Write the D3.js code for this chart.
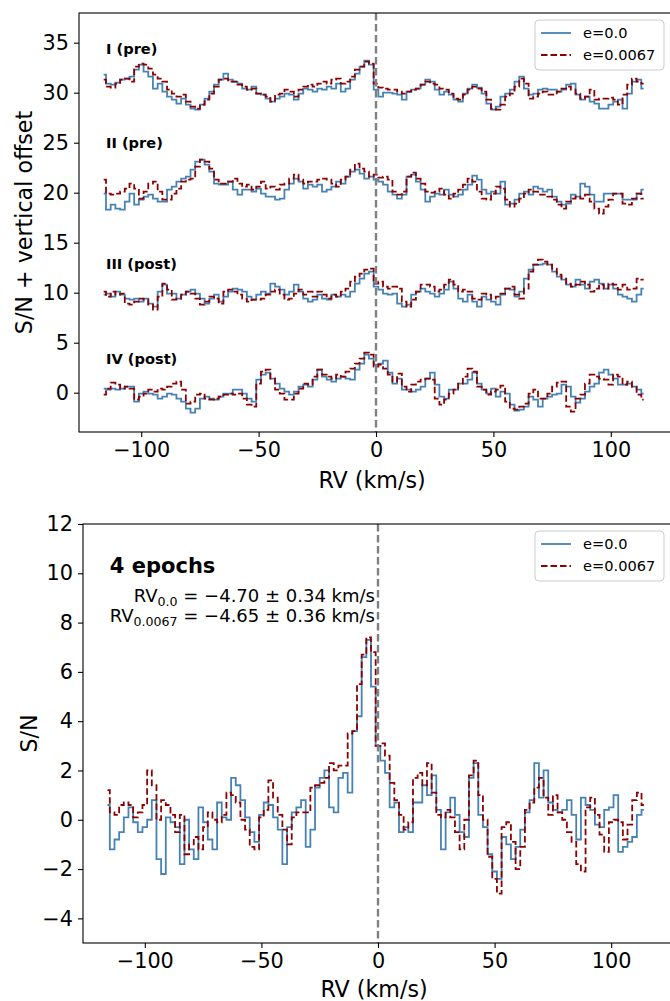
<!DOCTYPE html>
<html>
<head>
<meta charset="utf-8">
<script src="https://cdn.jsdelivr.net/npm/d3@7"></script>
<style>
  body { margin: 0; background: #fff; }
  text { font-family: "DejaVu Sans", sans-serif; }
</style>
</head>
<body>
<svg id="chart" width="670" height="1001"></svg>
<script>
// RV grid: -116 ... 114 km/s, 2 km/s bins
const rvGrid = d3.range(-116, 116, 2);

const epochLabels = ["I (pre)", "II (pre)", "III (post)", "IV (post)"];
const epochOffsets = [30, 20, 10, 0];
const epochLabelY = [33.9, 24.5, 12.4, 2.9];
const legendLabels = ["e=0.0", "e=0.0067"];

// S/N per epoch, circular (e=0.0) and eccentric (e=0.0067) templates
const circI = [1.8, 0.9, 0.8, 1.0, 1.3, 1.4, 1.6, 2.3, 2.8, 2.1, 1.6, 0.4, 0.9, 0.1, -0.4, -0.7, -1.1, -0.6, -1.2, -1.6, -1.7, -1.2, -0.6, 0.1, 0.8, 1.3, 1.9, 1.3, 1.1, 0.9, 0.4, 0.3, 0.6, -0.1, -0.2, -0.6, -0.9, -0.6, -0.4, -0.1, -0.2, -0.7, -0.1, 0.4, 0.3, 0.1, 0.4, 0.3, 0.6, 0.4, 0.9, 0.1, 0.4, 1.3, 1.9, 2.6, 3.2, 2.8,
  0.3, -0.4, 0.0, 0.0, -0.1, -0.2, -0.7, 0.1, 0.3, 0.4, 0.8, 1.3, 1.1, 0.3, -0.2, 0.1, -0.2, -0.7, -0.9, -0.1, 0.4, 0.8, 0.5, -0.1, -1.1, -1.7, -1.4, -0.4, -0.1, 0.3, 1.1, 1.6, 0.4, -0.2, -0.1, 0.3, 0.4, 0.3, 0.3, 0.1, 0.3, 0.8, 0.9, -0.2, -0.7, -0.4, -0.9, -1.1, -1.6, -1.6, -1.2, -0.9, -0.7, -1.6, -0.1, 1.1, 1.3, 0.4];
const eccI = [1.3, 0.6, 0.5, 0.9, 1.3, 1.4, 1.1, 2.6, 2.9, 2.8, 2.4, 1.8, 1.4, 1.1, 0.3, -0.1, -0.4, -0.2, -0.9, -1.4, -1.6, -1.2, -0.7, -0.1, 0.6, 1.3, 1.4, 1.1, 1.1, 0.8, 0.6, 0.3, 0.4, -0.1, -0.2, -0.4, -0.9, -0.2, -0.1, 0.3, 0.1, -0.4, 0.3, 0.6, 0.8, 0.6, 0.9, 1.1, 0.9, 1.3, 1.4, 0.9, 1.1, 1.6, 2.3, 2.6, 3.1, 2.9,
  0.9, 0.5, 0.4, 0.3, 0.3, 0.1, -0.1, 0.1, 0.3, 0.4, 0.8, 1.1, 0.9, 0.8, 0.4, 0.3, -0.1, -0.6, -0.7, -0.2, 0.3, 0.6, 0.4, 0.1, -0.7, -1.6, -1.7, -1.2, -0.4, -0.1, 0.6, 1.4, 0.9, -0.6, -0.4, -0.1, 0.1, -0.2, -0.2, 0.1, 0.4, 0.6, 0.3, -0.1, -0.6, -0.4, 0.3, -0.7, -0.6, -0.6, -0.5, -0.7, -1.2, -0.2, 0.8, 1.4, 1.1, 0.9];

const circII = [-0.1, -1.7, -1.2, -1.6, -1.7, -0.9, -0.1, -1.2, -0.7, -0.4, -0.2, -0.6, -0.9, -0.9, 0.3, 0.6, 1.1, 1.4, 1.6, 2.3, 3.1, 3.3, 2.8, 2.1, 0.9, 0.8, 0.8, 1.1, 0.3, -0.2, 0.3, 0.3, 0.1, 0.4, -0.1, -0.4, -0.4, -0.7, -0.6, 0.3, 0.9, 1.4, 1.1, 0.4, 0.8, 0.6, 0.8, 0.1, 0.3, 0.6, 1.1, 0.9, 1.6, 2.1, 2.3, 1.9, 1.4, 1.6,
  1.3, 1.1, 0.8, 0.1, -0.2, -0.6, -0.2, 1.6, 1.8, 1.1, 0.3, -0.9, -0.4, -0.1, -0.2, 0.3, -0.2, -0.4, -0.2, 0.3, 0.8, 1.7, 1.3, 0.3, -0.1, 0.1, -0.1, 1.1, -1.2, -1.1, -0.7, -0.1, 0.1, -0.2, 0.6, 0.4, 0.1, 0.3, -0.4, -0.9, -1.2, -1.1, -0.2, -0.4, 0.9, 0.6, -0.2, -0.9, -0.9, -0.1, -0.1, -0.1, -0.1, -0.7, -0.7, -0.7, -0.1, 0.3];
const eccII = [1.3, -0.1, -0.2, -0.1, 0.1, 0.4, 0.9, 0.4, -0.6, 0.1, 0.9, 1.1, 0.1, -0.7, -0.7, -0.1, 0.4, 1.1, 1.3, 1.4, 2.6, 3.3, 3.1, 2.4, 1.3, 0.9, 0.9, 1.1, 1.4, 0.9, 0.6, 0.8, 0.3, 0.6, 1.1, 0.4, 0.6, 0.3, 0.8, 0.9, 1.4, 1.8, 1.3, 0.9, 1.1, 1.1, 1.3, 1.4, 1.3, 0.9, 0.6, 1.3, 1.6, 2.3, 2.9, 2.4, 2.1, 1.6,
  1.8, 1.5, 1.6, 1.3, 0.1, -0.2, 0.1, 1.6, 2.0, 1.4, 0.9, 0.1, 0.0, 0.1, 0.4, -0.2, -0.6, -0.1, 0.3, 0.8, 1.4, 1.1, 0.1, -0.6, -0.7, -0.1, 0.6, 0.4, -0.7, -1.4, -1.1, -0.6, -0.1, 0.3, 0.1, -0.2, -0.2, -0.4, -0.7, -1.2, -1.6, -0.9, -0.6, -0.4, -0.6, -0.2, -0.9, -1.6, -2.1, -1.4, -0.7, -0.1, -0.1, -1.1, -1.2, -0.6, -0.1, -0.6];

const circIII = [-0.2, -0.1, -0.4, 0.1, -0.2, -0.6, -0.7, -0.6, -0.9, -0.6, -1.1, -1.4, 0.1, 0.8, -0.1, -0.1, -0.6, -0.2, 0.1, 0.3, -0.1, -0.6, -1.1, -0.6, -0.2, -0.9, -0.4, 0.1, 0.4, 0.3, 0.1, -0.4, -0.7, -0.2, 0.1, -0.1, 0.9, 0.6, 0.3, -0.2, 0.1, 0.8, 0.1, -0.6, -0.9, -0.7, -0.2, -0.6, -0.7, -0.2, -0.4, -0.2, -0.4, 0.1, 0.9, 1.4, 1.9, 2.1,
  0.6, 0.3, -0.1, -0.2, -0.1, -1.1, -1.4, -1.2, -0.2, 0.1, 0.4, 0.1, -0.1, -0.4, -0.1, 0.3, 1.1, 0.4, -0.6, -0.9, -0.2, -0.9, -1.4, -0.4, -0.7, -0.9, -1.2, -0.2, 0.4, 0.3, -0.4, 0.1, 1.4, 2.3, 2.8, 2.8, 2.9, 2.8, 2.1, 1.6, 1.3, 0.8, 0.6, 1.3, 0.8, 0.4, 1.1, 1.3, 0.9, 0.4, 0.8, 0.4, -0.2, -0.4, -0.6, -0.9, -0.2, 0.4];
const eccIII = [0.1, -0.4, 0.1, -0.2, -0.1, -1.1, -1.2, -0.9, -0.6, -0.7, -1.2, -1.7, -0.4, 0.9, 0.3, -0.7, -0.6, -0.2, 0.1, -0.1, -0.6, -1.2, -0.9, -0.4, -0.6, -1.1, 0.1, 0.3, 0.1, -0.2, -0.6, -0.9, -0.7, -0.7, -0.6, -0.2, 0.1, 0.3, -0.2, -0.7, -0.6, -0.1, 0.3, -0.2, 0.1, -0.4, 0.1, -0.2, -0.6, -0.2, -0.4, 0.1, 0.4, 1.1, 1.6, 1.9, 2.3, 2.4,
  0.9, 1.1, 0.6, 0.4, 0.6, 0.4, -0.9, -1.4, -0.7, 0.1, 0.8, 0.8, 0.6, 0.1, 0.3, 0.8, 1.3, 0.8, 0.1, 0.3, 0.1, -0.6, -0.7, -0.1, -0.2, -0.6, -0.4, -0.1, 0.4, 0.6, -0.2, -0.6, 0.4, 2.1, 2.8, 3.3, 3.1, 2.8, 2.4, 1.8, 1.4, 0.9, 0.6, 0.8, 1.1, 0.8, 0.1, 0.4, 0.8, 0.4, 0.9, 0.8, 0.3, 0.8, 0.3, 0.4, 1.4, 1.3];

const circIV = [0.4, 0.3, 0.4, 0.3, 0.4, 0.6, 0.6, -0.9, -0.1, 0.1, -0.1, -0.2, -0.6, -0.4, -0.1, -0.2, -0.6, -0.9, -1.6, -2.0, -1.6, -0.6, -0.4, -0.6, -0.7, -0.4, -0.1, -0.1, 0.3, 0.3, -0.1, -0.6, -0.9, 1.3, 1.8, 2.0, 1.4, 0.9, 0.4, 0.1, -0.2, 0.1, 0.6, 0.8, 0.6, 1.3, 2.3, 1.6, 1.3, 1.1, 1.4, 1.6, 1.4, 1.3, 2.3, 2.9, 3.8, 3.4,
  2.8, 2.9, 3.2, 2.0, 0.9, 1.4, 0.3, 0.3, 0.1, 0.3, 0.6, 1.4, 2.0, 0.8, -0.4, -0.6, 0.3, 0.3, 0.9, 0.9, 1.3, 2.0, 0.9, 0.3, -0.1, 0.4, -0.4, 0.1, -0.1, -1.2, -1.8, -1.7, -1.4, -0.4, -0.7, -1.4, -0.6, -0.4, -0.2, -0.1, 0.8, 0.6, -0.4, -1.0, -0.6, 0.1, 0.6, 0.9, 2.0, 2.3, 1.8, 1.4, 0.8, 0.8, 0.9, 0.6, 0.3, -0.1];
const eccIV = [-0.2, 0.4, 1.0, 0.8, 0.4, 0.6, 0.4, -0.7, -0.4, -0.1, 0.3, 0.1, 0.4, 0.3, 0.6, 0.9, 1.1, 0.3, -1.1, -0.9, -0.2, -0.1, -0.6, -0.7, -0.6, -0.4, -0.2, -0.1, -0.2, -0.1, -0.6, -1.2, -1.4, 0.9, 2.1, 2.3, 1.4, 0.3, -0.1, -0.7, -0.7, -0.1, 0.4, 0.9, 0.8, 1.6, 2.3, 1.8, 1.6, 1.4, 1.8, 1.6, 2.1, 2.4, 2.9, 3.4, 4.0, 3.8,
  2.6, 2.8, 2.4, 1.8, 1.1, 1.9, 0.6, 0.1, 0.8, 1.1, 1.3, 1.4, 1.3, -0.6, -1.2, -0.7, -0.1, 0.3, 0.9, 1.6, 2.4, 2.1, 0.6, 0.3, -0.2, 0.1, 0.3, 0.7, -0.9, -1.6, -1.7, -1.4, -1.1, -0.1, 0.3, -0.6, -0.6, -0.1, 0.6, 1.0, 1.1, -1.4, -1.9, -0.6, -0.2, 0.9, 1.8, 1.6, 1.4, 1.3, 0.8, 1.8, 1.6, 0.8, 1.1, 0.6, -0.2, -0.7];

// combined 4-epoch S/N
const circAll = [0.6, -1.2, -0.8, -0.5, 0.1, 0.5, -0.1, -0.5, -0.3, 0.0, 0.8, -1.6, -2.2, 0.1, -0.1, -0.3, -1.8, 0.0, -1.2, -1.6, 0.5, -0.1, -0.8, -1.2, 0.7, 0.1, 0.0, 1.7, 1.4, 0.8, 0.1, -0.5, -0.9, 0.2, 0.7, 0.6, 0.1, -0.4, -1.8, -0.3, 0.3, 0.5, 0.8, -1.1, -0.4, 1.3, 1.7, 2.0, 0.5, 0.3, 1.7, 1.9, 1.1, 3.6, 4.2, 6.6, 7.3, 5.4,
  3.0, 2.4, 1.9, 0.5, 0.7, -0.5, -0.3, -0.5, 0.7, 0.7, 1.4, 1.0, 1.8, 0.4, -1.2, 0.3, 0.9, 0.2, -0.5, -0.7, 1.7, 2.3, 0.2, -0.3, -1.4, -2.1, -2.4, -0.7, -1.0, -1.6, -1.1, -0.4, 0.3, 0.8, 2.3, 0.9, 2.0, 0.7, 0.4, 0.3, 0.4, 0.8, 0.2, -0.8, 0.9, 0.6, 0.4, -0.2, -0.3, 0.4, 0.5, 1.0, -1.3, -1.1, -0.9, -0.7, 0.2, 0.4];
const eccAll = [1.2, 0.3, 0.2, 0.6, 0.7, 0.6, 0.1, 0.3, 0.6, 2.0, 1.4, 0.0, 0.8, 0.6, 0.2, -0.5, 0.2, -1.4, -1.0, -0.7, -1.2, -0.3, 0.3, 0.0, -0.1, 0.2, 1.1, 1.0, 0.7, 0.0, -0.4, -1.1, -1.2, 0.1, 0.4, 1.6, 0.9, 0.2, -0.4, -1.0, 0.1, 0.3, 0.3, 0.3, 1.3, 1.4, 1.5, 1.7, 2.3, 2.0, 2.2, 2.2, 3.5, 3.6, 5.5, 6.7, 7.4, 6.8,
  3.0, 3.1, 2.6, 1.5, 0.8, 0.2, -0.4, -0.1, 1.7, 1.9, 1.4, 2.3, 1.1, 0.2, 0.1, 0.4, 0.1, -0.5, -1.2, 0.0, 1.8, 2.4, 1.0, 0.0, -1.5, -2.4, -3.0, -0.3, -0.1, -0.9, -2.0, -1.1, 0.4, 0.7, 1.3, 1.7, 0.9, 0.2, 1.0, 0.3, 0.0, -0.5, -0.9, -1.8, -2.1, 0.5, 0.9, 0.2, -0.6, -1.3, -0.1, 0.0, -0.1, -0.8, -0.2, 0.8, 1.1, 0.6];

const xTicks = [-100, -50, 0, 50, 100];
const topYTicks = [0, 5, 10, 15, 20, 25, 30, 35];
const bottomYTicks = [-4, -2, 0, 2, 4, 6, 8, 10, 12];

const circColor = "#4682b4";
const eccColor = "#8b0000";
const svg = d3.select("#chart");
const defs = svg.append("defs");
const fmt = d => d < 0 ? "\u2212" + Math.abs(d) : String(d);

function drawPanel(o) {
  const x = d3.scaleLinear().domain([-126.5, 126.5]).range([o.left, o.right]);
  const y = d3.scaleLinear().domain(o.yDomain).range([o.bottom, o.top]);

  defs.append("clipPath").attr("id", "clip-" + o.id)
    .append("rect")
    .attr("x", o.left).attr("y", o.top)
    .attr("width", o.right - o.left).attr("height", o.bottom - o.top);

  const plot = svg.append("g").attr("clip-path", `url(#clip-${o.id})`);

  o.series.forEach(s => {
    const line = d3.line()
      .x((d, i) => x(rvGrid[i]))
      .y(d => y(d + s.offset))
      .curve(d3.curveStep);
    plot.append("path")
      .attr("d", line(s.values))
      .attr("fill", "none")
      .attr("stroke", s.ecc ? eccColor : circColor)
      .attr("stroke-width", 1.8)
      .attr("stroke-dasharray", s.ecc ? "6.5,3" : null);
  });

  // RV = 0 marker
  plot.append("line")
    .attr("x1", x(0)).attr("x2", x(0))
    .attr("y1", o.top).attr("y2", o.bottom)
    .attr("stroke", "#808080")
    .attr("stroke-width", 2.4)
    .attr("stroke-dasharray", "7.5,3.5");

  const xAxis = svg.append("g")
    .attr("transform", `translate(0,${o.bottom})`)
    .call(d3.axisBottom(x).tickValues(xTicks).tickSize(5).tickPadding(5).tickFormat(fmt));
  const yAxis = svg.append("g")
    .attr("transform", `translate(${o.left},0)`)
    .call(d3.axisLeft(y).tickValues(o.yTicks).tickSize(5).tickPadding(5).tickFormat(fmt));
  [xAxis, yAxis].forEach(a => {
    a.select(".domain").remove();
    a.selectAll("line").attr("stroke", "#000").attr("stroke-width", 1.1);
    a.selectAll("text").attr("font-size", 20.8).attr("fill", "#000")
      .attr("font-family", "DejaVu Sans");
  });

  svg.append("rect")
    .attr("x", o.left).attr("y", o.top)
    .attr("width", o.right - o.left).attr("height", o.bottom - o.top)
    .attr("fill", "none").attr("stroke", "#000").attr("stroke-width", 1.1);

  svg.append("text")
    .attr("x", (o.left + o.right) / 2 - 4).attr("y", o.xLabelY)
    .attr("text-anchor", "middle").attr("font-size", 22.2)
    .text("RV (km/s)");
  svg.append("text")
    .attr("transform", `translate(${o.yLabelX},${(o.top + o.bottom) / 2}) rotate(-90)`)
    .attr("text-anchor", "middle").attr("font-size", 22.2)
    .text(o.yLabel);

  // legend
  const lg = svg.append("g").attr("transform", `translate(${o.right - 138},${o.top + 7})`);
  lg.append("rect").attr("width", 129).attr("height", 50).attr("rx", 4)
    .attr("fill", "#fff").attr("fill-opacity", 0.8)
    .attr("stroke", "#ccc").attr("stroke-width", 1);
  legendLabels.forEach((lab, i) => {
    const yy = 13 + i * 22;
    lg.append("line").attr("x1", 6).attr("x2", 36).attr("y1", yy).attr("y2", yy)
      .attr("stroke", i ? eccColor : circColor).attr("stroke-width", 1.8)
      .attr("stroke-dasharray", i ? "6.5,3" : null);
    lg.append("text").attr("x", 48).attr("y", yy + 5.2)
      .attr("font-size", 14.6).text(lab);
  });

  return { x, y };
}

// top panel: four epochs with vertical offsets
const epochCirc = [circI, circII, circIII, circIV];
const epochEcc = [eccI, eccII, eccIII, eccIV];
const topSeries = [];
epochOffsets.forEach((off, k) => {
  topSeries.push({ values: epochCirc[k], offset: off, ecc: false });
  topSeries.push({ values: epochEcc[k], offset: off, ecc: true });
});
const upperPanel = drawPanel({
  id: "upper", left: 79, right: 673, top: 13, bottom: 432,
  yDomain: [-3.93, 37.97], yTicks: topYTicks,
  xLabelY: 488, yLabelX: 32, yLabel: "S/N + vertical offset",
  series: topSeries
});
epochLabels.forEach((lab, k) => {
  svg.append("text")
    .attr("x", upperPanel.x(-115)).attr("y", upperPanel.y(epochLabelY[k]))
    .attr("font-size", 14.6).attr("font-weight", "bold")
    .text(lab);
});

// bottom panel: combined S/N
const lowerPanel = drawPanel({
  id: "lower", left: 83, right: 673, top: 524, bottom: 943,
  yDomain: [-5, 12], yTicks: bottomYTicks,
  xLabelY: 997, yLabelX: 37, yLabel: "S/N",
  series: [
    { values: circAll, offset: 0, ecc: false },
    { values: eccAll, offset: 0, ecc: true }
  ]
});
svg.append("text")
  .attr("x", lowerPanel.x(-115)).attr("y", lowerPanel.y(10))
  .attr("font-size", 21).attr("font-weight", "bold")
  .text("4 epochs");
const rvLines = [
  { sub: "0.0", rest: " = \u22124.70 \u00b1 0.34 km/s", yv: 8.83 },
  { sub: "0.0067", rest: " = \u22124.65 \u00b1 0.36 km/s", yv: 8.02 }
];
rvLines.forEach(r => {
  const t = svg.append("text")
    .attr("x", 375).attr("y", lowerPanel.y(r.yv))
    .attr("text-anchor", "end").attr("font-size", 18);
  t.append("tspan").text("RV");
  t.append("tspan").attr("font-size", 12.6).attr("dy", 4).text(r.sub);
  t.append("tspan").attr("dy", -4).text(r.rest);
});
</script>
</body>
</html>
